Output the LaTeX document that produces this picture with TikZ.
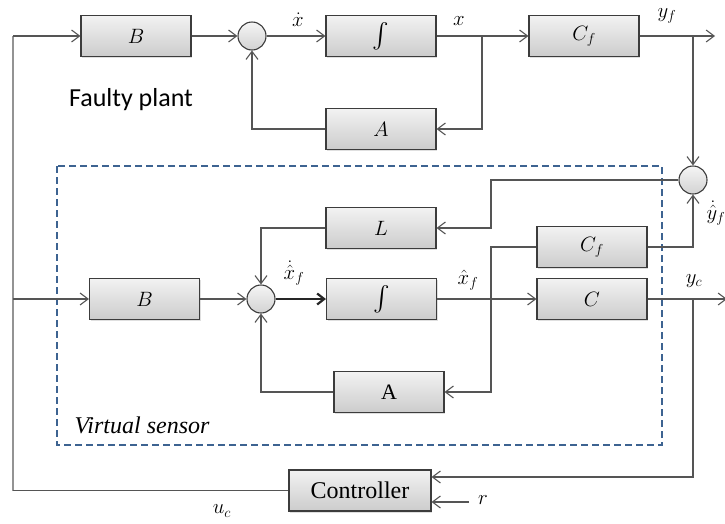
\documentclass[tikz,border=0pt]{standalone}
\usepackage{amsmath}
\usepackage{fontspec}
\setmainfont{Liberation Serif}
\newfontfamily\plantfont{Carlito}
\usetikzlibrary{arrows.meta,positioning,shadows}

\definecolor{linegray}{HTML}{555555}
\definecolor{boxedge}{HTML}{3C3C3C}
\definecolor{sensorblue}{HTML}{3D6391}

\begin{document}
\begin{tikzpicture}[
    x=1pt, y=-1pt,
    block/.style={rectangle, draw=boxedge, line width=1.1pt,
                  top color=gray!10, bottom color=gray!40,
                  minimum width=110pt, minimum height=41pt, inner sep=0pt,
                  font=\fontsize{21}{25}\selectfont,
                  drop shadow={shadow xshift=1pt, shadow yshift=-1.5pt, opacity=0.25}},
    sum/.style={circle, draw=boxedge, line width=1.1pt,
                top color=gray!8, bottom color=gray!35,
                minimum size=28pt, inner sep=0pt},
    line/.style={draw=linegray, line width=1.1pt},
    arrow/.style={line, -{Straight Barb[length=8pt,width=12pt]}},
    bold arrow/.style={draw=black!85, line width=2.2pt, -{Straight Barb[length=7pt,width=11pt]}},
    lbl/.style={font=\fontsize{22}{26}\selectfont, inner sep=0pt}
]
\useasboundingbox (0,0) rectangle (725,523);

% faulty plant
\node[block] (b1)   at (136,36)  {$B$};
\node[sum]   (s1)   at (252,36)  {};
\node[block, font=\fontsize{25}{29}\selectfont] (int1) at (381,36) {$\int$};
\node[block] (cf1)  at (584,36)  {$C_f$};
\node[block] (a1)   at (381,129) {$A$};
\node[font=\plantfont\fontsize{26}{30}\selectfont] (plant) at (131,100) {Faulty plant};

% virtual sensor
\draw[sensorblue, line width=2.2pt, dash pattern=on 7pt off 4pt] (57,166) rectangle (662,445);
\node[sum]   (s2)   at (693,180) {};
\node[block] (l)    at (381,228) {$L$};
\node[block] (cf2)  at (592,247) {$C_f$};
\node[block] (b2)   at (144.5,299) {$B$};
\node[sum]   (s3)   at (261,299) {};
\node[block, font=\fontsize{25}{29}\selectfont] (int2) at (381.5,299) {$\int$};
\node[block] (c)    at (592,299) {$C$};
\node[block, font=\fontsize{22}{26}\selectfont] (a2) at (389,392) {A};
\node[font=\itshape\fontsize{24}{28}\selectfont] (vs) at (142,425) {Virtual sensor};

% controller
\node[block, minimum width=142pt, font=\fontsize{24}{28}\selectfont] (ctrl) at (360,490.5) {Controller};

% labels
\node[lbl] (xdot)   at (298,20)  {$\dot{x}$};
\node[lbl] (xlab)   at (459,21)  {$x$};
\node[lbl] (yf)     at (667,16)  {$y_f$};
\node[lbl] (xhd)    at (294,273) {$\dot{\hat{x}}_f$};
\node[lbl] (xh)     at (468,280) {$\hat{x}_f$};
\node[lbl] (yhd)    at (716,213) {$\dot{\hat{y}}_f$};
\node[lbl] (yc)     at (694,281) {$y_c$};
\node[lbl] (uc)     at (222,511) {$u_c$};
\node[lbl] (rlab)   at (483,500) {$r$};

% junctions and free ends
\coordinate (ul)     at (13,36);
\coordinate (ll)     at (13,491);
\coordinate (xsplit) at (482,36);
\coordinate (yfout)  at (715,36);
\coordinate (lsplit) at (491,180);
\coordinate (xhsplit) at (491,247);
\coordinate (ycsplit) at (693,299);
\coordinate (ycout)  at (727,299);
\coordinate (rin)    at (469,502);

% plant loop
\draw[line, line width=2.2pt, draw=gray!85] (ll) -- (ul);
\draw[line] (ctrl.west) -- (ctrl.west -| ll);
\draw[arrow] (ul) -- (b1.west);
\draw[arrow] (b1) -- (s1);
\draw[arrow] (s1) -- (int1);
\draw[arrow] (int1) -- (cf1);
\draw[arrow] (xsplit) |- (a1.east);
\draw[arrow] (a1.west) -| (s1.south);
\draw[arrow] (cf1) -- (yfout);
\draw[arrow] (yfout -| s2) -- (s2.north);

% observer
\draw[arrow] (s2.west) -- (lsplit) |- (l.east);
\draw[arrow] (l.west) -| (s3.north);
\draw[arrow] (ul |- b2) -- (b2.west);
\draw[arrow] (b2) -- (s3);
\draw[bold arrow] (s3) -- (int2);
\draw[arrow] (int2) -- (c);
\draw[arrow] (cf2.west) -- (xhsplit) |- (a2.east);
\draw[arrow] (a2.west) -| (s3.south);
\draw[arrow] (cf2.east) -| (s2.south);
\draw[arrow] (c) -- (ycout);

% feedback to controller
\draw[arrow] (ycsplit) |- ([yshift=13.5pt]ctrl.east);
\draw[arrow] (rin) -- (rin -| ctrl.east);
\end{tikzpicture}
\end{document}
